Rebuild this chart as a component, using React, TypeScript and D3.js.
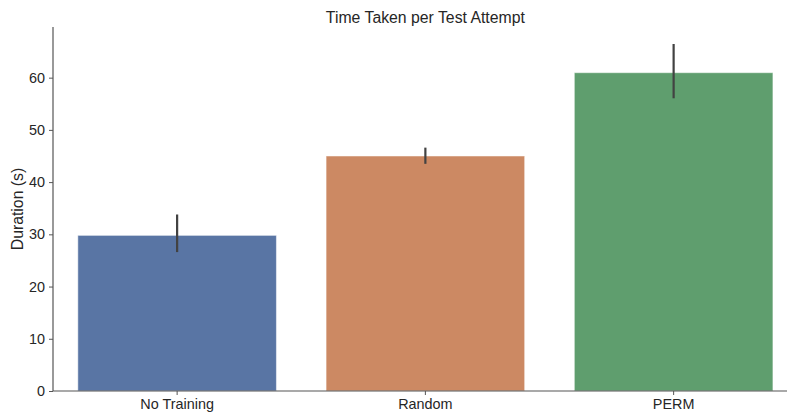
import React, { useEffect, useRef } from 'react';
import * as d3 from 'd3';

const categories = ['No Training', 'Random', 'PERM'];
const durations = [29.8, 45.0, 60.95];
const ciLow = [26.6, 43.5, 56.05];
const ciHigh = [33.8, 46.6, 66.45];
const barColors = ['#5975a4', '#cc8963', '#5f9e6e'];
const yTicks = [0, 10, 20, 30, 40, 50, 60];

const width = 787;
const height = 413;

const App: React.FC = () => {
  const svgRef = useRef<SVGSVGElement>(null);

  useEffect(() => {
    if (!svgRef.current) return;
    const svg = d3.select(svgRef.current);
    svg.selectAll('*').remove();

    const margin = { top: 27, left: 53, bottom: 22 };
    const plotBottom = height - margin.bottom;
    const plotRight = 797.75;
    const font = '"Liberation Sans", Arial, sans-serif';
    const textColor = '#262626';
    const spineColor = '#555';

    const x = d3
      .scaleBand()
      .domain(categories)
      .range([margin.left, plotRight])
      .paddingInner(0.2)
      .paddingOuter(0.1);

    const y = d3.scaleLinear().domain([0, 69.7]).range([plotBottom, margin.top]);

    const data = categories.map((c, i) => ({
      name: c,
      value: durations[i],
      lo: ciLow[i],
      hi: ciHigh[i],
      color: barColors[i]
    }));

    // Bars
    svg
      .selectAll('.bar')
      .data(data)
      .enter()
      .append('rect')
      .attr('class', 'bar')
      .attr('x', d => x(d.name)!)
      .attr('y', d => y(d.value))
      .attr('width', x.bandwidth())
      .attr('height', d => y(0) - y(d.value))
      .attr('fill', d => d.color)
      .attr('stroke', '#ffffff')
      .attr('stroke-opacity', 0.5)
      .attr('stroke-width', 1);

    // Error bars
    svg
      .selectAll('.err')
      .data(data)
      .enter()
      .append('line')
      .attr('class', 'err')
      .attr('x1', d => x(d.name)! + x.bandwidth() / 2)
      .attr('x2', d => x(d.name)! + x.bandwidth() / 2)
      .attr('y1', d => y(d.lo))
      .attr('y2', d => y(d.hi))
      .attr('stroke', '#424242')
      .attr('stroke-width', 2.2);

    // Y axis
    const yAxis = d3
      .axisLeft(y)
      .tickValues(yTicks)
      .tickSize(4)
      .tickPadding(4)
      .tickSizeOuter(0);
    const yg = svg
      .append('g')
      .attr('transform', `translate(${margin.left},0)`)
      .call(yAxis);
    yg.select('.domain').remove();
    yg.append('line')
      .attr('x1', 0)
      .attr('x2', 0)
      .attr('y1', margin.top)
      .attr('y2', plotBottom)
      .attr('stroke', spineColor)
      .attr('stroke-width', 1.2);
    yg.selectAll('.tick line').attr('stroke', spineColor);
    yg.selectAll('.tick text')
      .style('font-family', font)
      .style('font-size', '14.4px')
      .attr('fill', textColor);

    // X axis
    const xAxis = d3.axisBottom(x).tickSize(4).tickPadding(4).tickSizeOuter(0);
    const xg = svg
      .append('g')
      .attr('transform', `translate(0,${plotBottom})`)
      .call(xAxis);
    xg.select('.domain').remove();
    xg.append('line')
      .attr('x1', margin.left)
      .attr('x2', plotRight)
      .attr('y1', 0)
      .attr('y2', 0)
      .attr('stroke', spineColor)
      .attr('stroke-width', 1.2);
    xg.selectAll('.tick line').attr('stroke', spineColor);
    xg.selectAll('.tick text')
      .style('font-family', font)
      .style('font-size', '14.4px')
      .attr('fill', textColor);

    // Y label
    svg
      .append('text')
      .attr('transform', `translate(23,${(margin.top + plotBottom) / 2}) rotate(-90)`)
      .attr('text-anchor', 'middle')
      .style('font-family', font)
      .style('font-size', '15.8px')
      .attr('fill', textColor)
      .text('Duration (s)');

    // Title
    svg
      .append('text')
      .attr('x', (margin.left + plotRight) / 2)
      .attr('y', 23)
      .attr('text-anchor', 'middle')
      .style('font-family', font)
      .style('font-size', '15.8px')
      .attr('fill', textColor)
      .text('Time Taken per Test Attempt');
  }, []);

  return (
    <svg
      ref={svgRef}
      width={width}
      height={height}
      style={{ position: 'absolute', left: 0, top: 0, background: '#fff' }}
    />
  );
};

export default App;
